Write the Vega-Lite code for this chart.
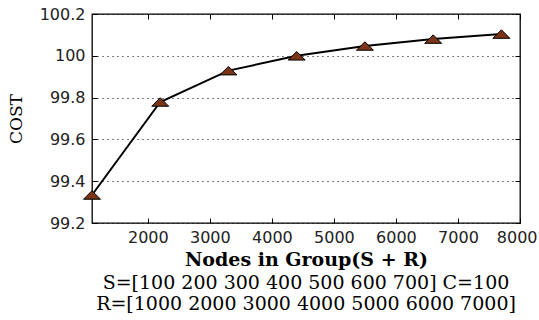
{
  "$schema": "https://vega.github.io/schema/vega-lite/v6.json",
  "width": 428,
  "height": 209,
  "autosize": {"type": "none"},
  "padding": {"left": 92, "top": 14, "right": 19, "bottom": 97},
  "background": "white",
  "config": {
    "view": {"stroke": "black", "strokeWidth": 1.3},
    "axis": {
      "labelFont": "DejaVu Sans",
      "labelFontSize": 16,
      "labelColor": "#222",
      "labelFlush": false,
      "labelOverlap": false,
      "domain": false,
      "tickColor": "black",
      "tickSize": -5,
      "titleColor": "black"
    }
  },
  "title": {
    "text": ["S=[100 200 300 400 500 600 700] C=100", "R=[1000 2000 3000 4000 5000 6000 7000]"],
    "orient": "bottom",
    "anchor": "middle",
    "baseline": "top",
    "font": "DejaVu Serif",
    "fontSize": 19,
    "fontWeight": "normal",
    "color": "black",
    "lineHeight": 21,
    "offset": 5
  },
  "data": {
    "values": [
      {"nodes": 1100, "cost": 99.334},
      {"nodes": 2200, "cost": 99.779},
      {"nodes": 3300, "cost": 99.929},
      {"nodes": 4400, "cost": 100.0},
      {"nodes": 5500, "cost": 100.047},
      {"nodes": 6600, "cost": 100.080},
      {"nodes": 7700, "cost": 100.104}
    ]
  },
  "resolve": {"axis": {"x": "independent", "y": "independent"}},
  "layer": [
    {
      "mark": {"type": "line", "color": "black", "strokeWidth": 2},
      "encoding": {
        "x": {
          "field": "nodes",
          "type": "quantitative",
          "scale": {"domain": [1100, 8000], "nice": false, "zero": false},
          "axis": {
            "values": [2000, 3000, 4000, 5000, 6000, 7000, 8000],
            "format": "d",
            "grid": false,
            "labelPadding": 11,
            "labelFlush": 1,
            "labelFlushOffset": 17,
            "title": "Nodes in Group(S + R)",
            "titleFont": "DejaVu Serif",
            "titleFontSize": 19,
            "titleFontWeight": "bold",
            "titlePadding": 5
          }
        },
        "y": {
          "field": "cost",
          "type": "quantitative",
          "scale": {"domain": [99.2, 100.2], "nice": false, "zero": false},
          "axis": {
            "values": [99.2, 99.4, 99.6, 99.8, 100, 100.2],
            "format": "~g",
            "grid": true,
            "gridColor": "black",
            "gridDash": [1, 4],
            "gridWidth": 1,
            "labelPadding": 12,
            "title": "COST",
            "titleFont": "DejaVu Serif",
            "titleFontSize": 17,
            "titleFontWeight": "normal",
            "titlePadding": 14
          }
        }
      }
    },
    {
      "mark": {
        "type": "point",
        "shape": "M-1,0.5L1,0.5L0,-0.5Z",
        "size": 289,
        "filled": true,
        "fill": "#7B3516",
        "stroke": "black",
        "strokeWidth": 1,
        "opacity": 1
      },
      "encoding": {
        "x": {
          "field": "nodes",
          "type": "quantitative",
          "axis": {"orient": "top", "values": [2000, 3000, 4000, 5000, 6000, 7000, 8000], "labels": false, "title": null, "grid": false}
        },
        "y": {
          "field": "cost",
          "type": "quantitative",
          "axis": {"orient": "right", "values": [99.2, 99.4, 99.6, 99.8, 100, 100.2], "labels": false, "title": null, "grid": false}
        }
      }
    }
  ]
}
